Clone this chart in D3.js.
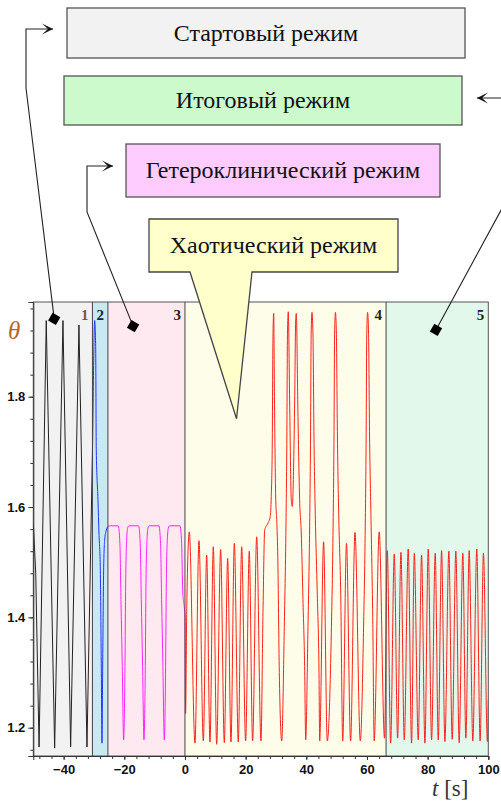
<!DOCTYPE html>
<html>
<head>
<meta charset="utf-8">
<script src="https://cdn.jsdelivr.net/npm/d3@7"></script>
<style>
  html, body { margin: 0; padding: 0; background: #fff; }
  svg { display: block; }
</style>
</head>
<body>
<svg id="chart" width="501" height="801"></svg>
<script>
// Pendulum angle θ(t): the five regimes of the motion.
const regimeNames = ["Стартовый режим", "Итоговый режим", "Гетероклинический режим", "Хаотический режим"];
const regimeNumbers = ["1", "2", "3", "4", "5"];
const regimeBounds = [-50, -30.5, -25.4, 0, 66.3, 100];
const xTickLabels = [-40, -20, 0, 20, 40, 60, 80, 100];
const yTickLabels = [1.2, 1.4, 1.6, 1.8];

// [t, θ] samples for each regime (extrema and shoulders of the trace)
const startRegime = [
  [-50, 1.571], [-49.2, 1.48], [-48.1, 1.165], [-45.73, 1.938], [-42.96, 1.163],
  [-40.22, 1.938], [-37.69, 1.165], [-34.95, 1.93], [-32.31, 1.165]
];
const transitionRegime = [
  [-30.5, 1.70], [-29.77, 1.938], [-29.44, 1.891], [-29.24, 1.704], [-28.68, 1.613],
  [-28.35, 1.553], [-27.92, 1.492], [-27.59, 1.317], [-27.36, 1.172], [-27.13, 1.31],
  [-26.8, 1.491], [-26.47, 1.54], [-25.94, 1.558]
];
const heteroclinicRegime = [
  [-25.4, 1.5645], [-24.5, 1.566], [-22.0, 1.566], [-21.45, 1.534], [-21.1, 1.432],
  [-20.67, 1.311], [-20.22, 1.178], [-19.78, 1.311], [-19.55, 1.462], [-19.22, 1.54],
  [-18.89, 1.562], [-18.45, 1.566],
  [-15.3, 1.566], [-14.75, 1.534], [-14.4, 1.432], [-13.97, 1.311], [-13.52, 1.178],
  [-13.08, 1.311], [-12.85, 1.462], [-12.52, 1.54], [-12.19, 1.562], [-11.75, 1.566],
  [-8.6, 1.566], [-8.05, 1.534], [-7.7, 1.432], [-7.27, 1.311], [-6.82, 1.178],
  [-6.38, 1.311], [-6.15, 1.462], [-5.82, 1.54], [-5.49, 1.562], [-5.05, 1.566],
  [-1.65, 1.566], [-1.1, 1.534], [-0.75, 1.45]
];
const chaoticRegime = [
  [0, 1.40], [0.2, 1.226], [0.6, 1.42], [1.43, 1.555], [3.3, 1.172], [4.62, 1.539],
  [6.05, 1.176], [7.15, 1.513], [8.24, 1.174], [9.34, 1.528], [10.45, 1.17],
  [11.76, 1.523], [12.97, 1.173], [14.07, 1.507], [15.17, 1.174], [16.27, 1.534],
  [17.58, 1.174], [18.69, 1.528], [20.0, 1.176], [21.2, 1.52], [22.3, 1.176],
  [23.64, 1.546], [25.06, 1.176], [25.72, 1.408], [26.28, 1.558], [27.37, 1.571],
  [28.12, 1.583], [28.45, 1.619], [28.78, 1.716], [29.0, 1.903], [29.25, 1.951],
  [29.5, 1.80], [29.9, 1.62], [30.3, 1.57], [30.6, 1.51], [31.1, 1.30], [31.9, 1.176],
  [32.74, 1.382], [33.29, 1.564], [33.59, 1.727], [33.79, 1.913], [34.06, 1.954],
  [34.5, 1.794], [35.05, 1.613], [35.38, 1.601], [35.84, 1.68], [36.17, 1.794],
  [36.5, 1.939], [36.7, 1.951], [37.26, 1.764], [37.8, 1.613], [38.34, 1.553],
  [38.9, 1.432], [39.45, 1.311], [39.8, 1.178],
  [40.55, 1.382], [41.1, 1.564], [41.4, 1.727], [41.6, 1.913], [41.87, 1.953],
  [42.2, 1.913], [42.53, 1.727], [42.96, 1.587], [43.62, 1.442], [44.18, 1.303], [44.41, 1.176],
  [45.7, 1.537], [46.92, 1.176],
  [48.28, 1.382], [48.83, 1.564], [49.13, 1.727], [49.33, 1.913], [49.6, 1.953],
  [49.93, 1.913], [50.26, 1.727], [50.69, 1.587], [51.35, 1.442], [52.0, 1.176],
  [53.25, 1.534], [54.6, 1.176], [56.05, 1.554], [57.8, 1.176],
  [58.88, 1.382], [59.43, 1.564], [59.73, 1.727], [59.93, 1.913], [60.2, 1.953],
  [60.53, 1.913], [60.86, 1.727], [61.3, 1.587], [61.9, 1.40], [62.38, 1.176],
  [64.03, 1.555], [65.78, 1.181]
];
const finalRegime = [
  [66.7, 1.521], [67.8, 1.172], [69.0, 1.515], [70.1, 1.181], [71.2, 1.518],
  [72.3, 1.178], [73.6, 1.524], [74.7, 1.172], [75.6, 1.516], [76.9, 1.178],
  [78.0, 1.513], [79.1, 1.172], [80.2, 1.524], [81.3, 1.178], [82.5, 1.516],
  [83.5, 1.178], [84.6, 1.521], [85.7, 1.175], [87.0, 1.52], [88.1, 1.179],
  [89.3, 1.52], [90.4, 1.173], [91.6, 1.516], [92.6, 1.181], [93.7, 1.521],
  [94.9, 1.176], [96.2, 1.524], [97.3, 1.176], [98.4, 1.516], [99.7, 1.175], [100, 1.25]
];

const regimeFills = ["#f2f2f2", "#c8e8f2", "#fee9f0", "#fefde9", "#e1f8ea"];
const traceColors = ["#222222", "#2233ff", "#ff22ff", "#ff2020", "#ff2020"];

const svg = d3.select("#chart");
const x = d3.scaleLinear().domain([-50, 100]).range([33.3, 488.3]);
const y = d3.scaleLinear().domain([1.1487, 1.9717]).range([756, 302]);
const plotTop = y.range()[1], plotBottom = y.range()[0];
const plotLeft = x.range()[0], plotRight = x.range()[1];

// ---- regime backgrounds ----
const regions = regimeNumbers.map((n, i) => ({n, a: regimeBounds[i], b: regimeBounds[i + 1], i}));
svg.append("g").selectAll("rect").data(regions).join("rect")
  .attr("x", d => x(d.a)).attr("y", plotTop)
  .attr("width", d => x(d.b) - x(d.a)).attr("height", plotBottom - plotTop)
  .attr("fill", d => regimeFills[d.i]);

// clip rectangles, one per regime
const defs = svg.append("defs");
regions.forEach(d => {
  defs.append("clipPath").attr("id", "clip" + d.i)
    .append("rect").attr("x", x(d.a)).attr("y", plotTop - 2)
    .attr("width", x(d.b) - x(d.a)).attr("height", plotBottom - plotTop + 4);
});

// ---- trace ----
const series = [].concat(startRegime, transitionRegime, heteroclinicRegime, chaoticRegime, finalRegime);
regions.forEach(d => {
  const line = d3.line().x(p => x(p[0])).y(p => y(p[1]))
    .curve(d.i === 0 ? d3.curveLinear : d3.curveMonotoneX);
  svg.append("path").datum(series)
    .attr("clip-path", `url(#clip${d.i})`)
    .attr("fill", "none")
    .attr("stroke", traceColors[d.i])
    .attr("stroke-width", 1)
    .attr("d", line);
});

// ---- frame and regime separators ----
svg.append("rect").attr("x", plotLeft).attr("y", plotTop)
  .attr("width", plotRight - plotLeft).attr("height", plotBottom - plotTop)
  .attr("fill", "none").attr("stroke", "#555").attr("stroke-width", 1);
svg.append("g").selectAll("line").data(regimeBounds.slice(1, -1)).join("line")
  .attr("x1", d => x(d)).attr("x2", d => x(d)).attr("y1", plotTop).attr("y2", plotBottom)
  .attr("stroke", "#444").attr("stroke-width", 1);

// ---- regime numbers ----
svg.append("g").selectAll("text").data(regions).join("text")
  .attr("x", d => x(d.b) - 4).attr("y", plotTop + 18)
  .attr("text-anchor", "end")
  .attr("font-family", "'Liberation Serif', serif").attr("font-weight", "bold").attr("font-size", 15)
  .attr("fill", d => d.i === 0 ? "#7a5535" : "#222")
  .text(d => d.n);

// ---- axes ----
const axisFont = g => g.selectAll("text")
  .attr("font-family", "'Liberation Sans', Arial, sans-serif")
  .attr("font-weight", "bold").attr("font-size", 13).attr("fill", "#111");

const yMinor = d3.range(1.16, 1.97, 0.04);
svg.append("g").attr("transform", `translate(${plotLeft},0)`)
  .call(d3.axisLeft(y).tickValues(yMinor).tickSize(3).tickFormat(""))
  .call(g => g.select(".domain").remove())
  .call(g => g.selectAll("line").attr("stroke", "#333"));
svg.append("g").attr("transform", `translate(${plotLeft},0)`)
  .call(d3.axisLeft(y).tickValues(yTickLabels).tickSize(5).tickPadding(3).tickFormat(d3.format(".1f")))
  .call(g => g.select(".domain").attr("stroke", "#333"))
  .call(g => g.selectAll("line").attr("stroke", "#333"))
  .call(axisFont);

const xMinor = d3.range(-48, 101, 4);
svg.append("g").attr("transform", `translate(0,${plotBottom})`)
  .call(d3.axisBottom(x).tickValues(xMinor).tickSize(3).tickFormat(""))
  .call(g => g.select(".domain").remove())
  .call(g => g.selectAll("line").attr("stroke", "#333"));
svg.append("g").attr("transform", `translate(0,${plotBottom})`)
  .call(d3.axisBottom(x).tickValues(xTickLabels).tickSize(4).tickPadding(5).tickFormat(d3.format("d")))
  .call(g => g.select(".domain").attr("stroke", "#333"))
  .call(g => g.selectAll("line").attr("stroke", "#333"))
  .call(axisFont);

// axis titles
svg.append("text").attr("x", 8).attr("y", 339)
  .attr("font-family", "'Liberation Serif', serif").attr("font-style", "italic").attr("font-size", 25)
  .attr("fill", "#b8661e").text("θ");
const tl = svg.append("text").attr("x", 432).attr("y", 796)
  .attr("font-family", "'Liberation Serif', serif").attr("font-size", 23).attr("fill", "#333");
tl.append("tspan").attr("font-style", "italic").text("t");
tl.append("tspan").text(" [s]");

// ---- regime captions ----
const boxes = [
  {label: regimeNames[0], x0: 67, x1: 465, y0: 8, y1: 58, fill: "#f2f2f2"},
  {label: regimeNames[1], x0: 64, x1: 462, y0: 76, y1: 125, fill: "#ccfacc"},
  {label: regimeNames[2], x0: 126, x1: 440, y0: 144, y1: 197, fill: "#ffccff"},
];
svg.append("g").selectAll("rect").data(boxes).join("rect")
  .attr("x", d => d.x0).attr("y", d => d.y0)
  .attr("width", d => d.x1 - d.x0).attr("height", d => d.y1 - d.y0)
  .attr("fill", d => d.fill).attr("stroke", "#555").attr("stroke-width", 1.3);

// callout with a pointer into the chaotic regime
const tip = [x(17), y(1.76)];
svg.append("path")
  .attr("d", `M149,219 H398 V272 H252 L${tip[0]},${tip[1]} L190,272 H149 Z`)
  .attr("fill", "#ffffcc").attr("stroke", "#444").attr("stroke-width", 1.3);

const captions = boxes.concat([{label: regimeNames[3], x0: 149, x1: 398, y0: 219, y1: 272}]);
svg.append("g").selectAll("text").data(captions).join("text")
  .attr("x", d => (d.x0 + d.x1) / 2).attr("y", d => (d.y0 + d.y1) / 2 + 7.5)
  .attr("text-anchor", "middle")
  .attr("font-family", "'Liberation Serif', 'Times New Roman', serif").attr("font-size", 24)
  .attr("fill", "#111")
  .text(d => d.label);

// ---- leader lines with diamond anchors ----
const arrowHead = "M0,0 L-11,-5.5 L-5,0 L-11,5.5 Z";
const leaders = [
  {anchor: [-43.1, 1.941], via: [[26, 88], [26, 29]], end: [53, 29], dir: 0},
  {anchor: [-17.1, 1.928], via: [[87, 212], [87, 166]], end: [113, 166], dir: 0},
  {anchor: [82.75, 1.921], via: [[512, 190], [512, 98]], end: [477, 98], dir: 180}
];
leaders.forEach(l => {
  const ax = x(l.anchor[0]), ay = y(l.anchor[1]);
  const pts = [[ax, ay]].concat(l.via, [l.end]);
  svg.append("path").attr("d", d3.line()(pts))
    .attr("fill", "none").attr("stroke", "#222").attr("stroke-width", 1.1);
  svg.append("path").attr("d", arrowHead)
    .attr("transform", `translate(${l.end[0]},${l.end[1]}) rotate(${l.dir})`)
    .attr("fill", "#111");
  svg.append("rect").attr("x", -4.5).attr("y", -4.5).attr("width", 9).attr("height", 9)
    .attr("transform", `translate(${ax},${ay}) rotate(30)`)
    .attr("fill", "#000");
});
</script>
</body>
</html>
